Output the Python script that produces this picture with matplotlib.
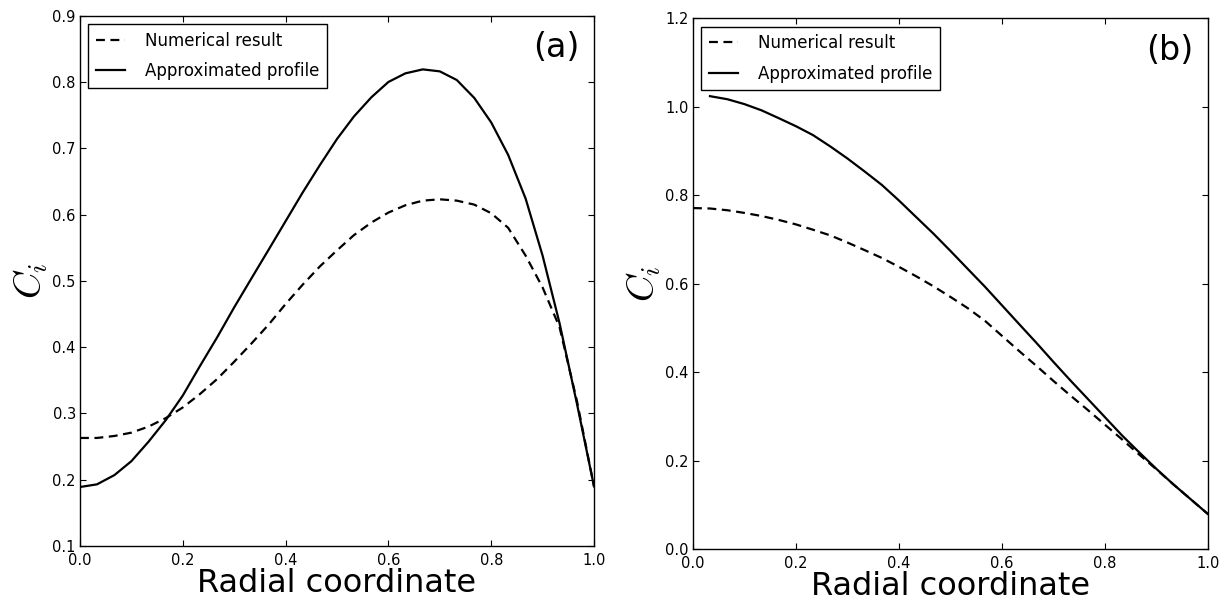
import numpy as np
import matplotlib
matplotlib.use("Agg")
import matplotlib.pyplot as plt

# radial grid (31 nodes) and profiles
r = [0.0, 0.033, 0.067, 0.1, 0.133, 0.167, 0.2, 0.233, 0.267, 0.3,
     0.333, 0.367, 0.4, 0.433, 0.467, 0.5, 0.533, 0.567, 0.6, 0.633,
     0.667, 0.7, 0.733, 0.767, 0.8, 0.833, 0.867, 0.9, 0.933, 0.967, 1.0]

num_a = [0.263, 0.263, 0.266, 0.271, 0.280, 0.293, 0.309, 0.329, 0.352, 0.378,
         0.405, 0.434, 0.465, 0.494, 0.522, 0.546, 0.569, 0.588, 0.603, 0.614,
         0.621, 0.623, 0.621, 0.615, 0.602, 0.580, 0.538, 0.490, 0.430, 0.318, 0.190]
approx_a = [0.189, 0.193, 0.207, 0.228, 0.257, 0.290, 0.327, 0.371, 0.415, 0.460,
            0.503, 0.547, 0.590, 0.633, 0.675, 0.714, 0.748, 0.777, 0.800, 0.813,
            0.819, 0.816, 0.803, 0.776, 0.739, 0.690, 0.624, 0.538, 0.436, 0.314, 0.190]

num_b = [0.771, 0.770, 0.766, 0.760, 0.753, 0.744, 0.734, 0.722, 0.709, 0.693,
         0.676, 0.658, 0.638, 0.617, 0.594, 0.570, 0.545, 0.516, 0.482, 0.448,
         0.414, 0.380, 0.347, 0.314, 0.281, 0.248, 0.213, 0.180, 0.146, 0.112, 0.079]
# approximated profile in (b) starts at the second node
approx_b = [1.024, 1.017, 1.006, 0.992, 0.974, 0.956, 0.936, 0.910, 0.883,
            0.854, 0.823, 0.788, 0.751, 0.713, 0.674, 0.634, 0.593, 0.551, 0.509,
            0.466, 0.423, 0.381, 0.339, 0.298, 0.257, 0.218, 0.181, 0.146, 0.112, 0.079]

labels = ["Numerical result", "Approximated profile"]

plt.rcParams["font.family"] = ["DejaVu Sans"]
plt.rcParams["xtick.direction"] = "in"
plt.rcParams["ytick.direction"] = "in"
plt.rcParams["xtick.top"] = True
plt.rcParams["ytick.right"] = True
plt.rcParams["xtick.major.size"] = 4
plt.rcParams["ytick.major.size"] = 4
plt.rcParams["xtick.major.pad"] = 5
plt.rcParams["ytick.major.pad"] = 3
plt.rcParams["mathtext.fontset"] = "cm"

fig = plt.figure(figsize=(12.25, 6.01), dpi=100)
ax1 = fig.add_axes([0.0653, 0.0915, 0.4196, 0.8824])
ax2 = fig.add_axes([0.5657, 0.0865, 0.4204, 0.8830])


def panel(ax, x_num, y_num, x_app, y_app, ylim, yticks, tag):
    ax.plot(x_num, y_num, "k--", lw=1.6, dashes=(4, 2.5), label=labels[0])
    ax.plot(x_app, y_app, "k-", lw=1.6, label=labels[1])
    ax.set_xlim(0, 1)
    ax.set_ylim(*ylim)
    ax.set_xticks([0.0, 0.2, 0.4, 0.6, 0.8, 1.0])
    ax.set_yticks(yticks)
    ax.tick_params(labelsize=10.5, width=0.8)
    for s in ax.spines.values():
        s.set_linewidth(1.0)
    ax.set_xlabel("Radial coordinate", fontsize=23, labelpad=0)
    ax.set_ylabel(r"$C_i$", fontsize=27, labelpad=2)
    leg = ax.legend(loc="upper left", fontsize=12, fancybox=False,
                    framealpha=1, edgecolor="black", borderaxespad=0.5,
                    handlelength=1.75, handletextpad=1.2, labelspacing=0.75,
                    borderpad=0.45)
    leg.get_frame().set_linewidth(1.0)
    ax.text(0.926, 0.94, tag, transform=ax.transAxes, fontsize=24,
            ha="center", va="center")


panel(ax1, r, num_a, r, approx_a, (0.1, 0.9),
      [0.1, 0.2, 0.3, 0.4, 0.5, 0.6, 0.7, 0.8, 0.9], "(a)")
panel(ax2, r, num_b, r[1:], approx_b, (0.0, 1.2),
      [0.0, 0.2, 0.4, 0.6, 0.8, 1.0, 1.2], "(b)")

fig.savefig("out.png", dpi=100)
